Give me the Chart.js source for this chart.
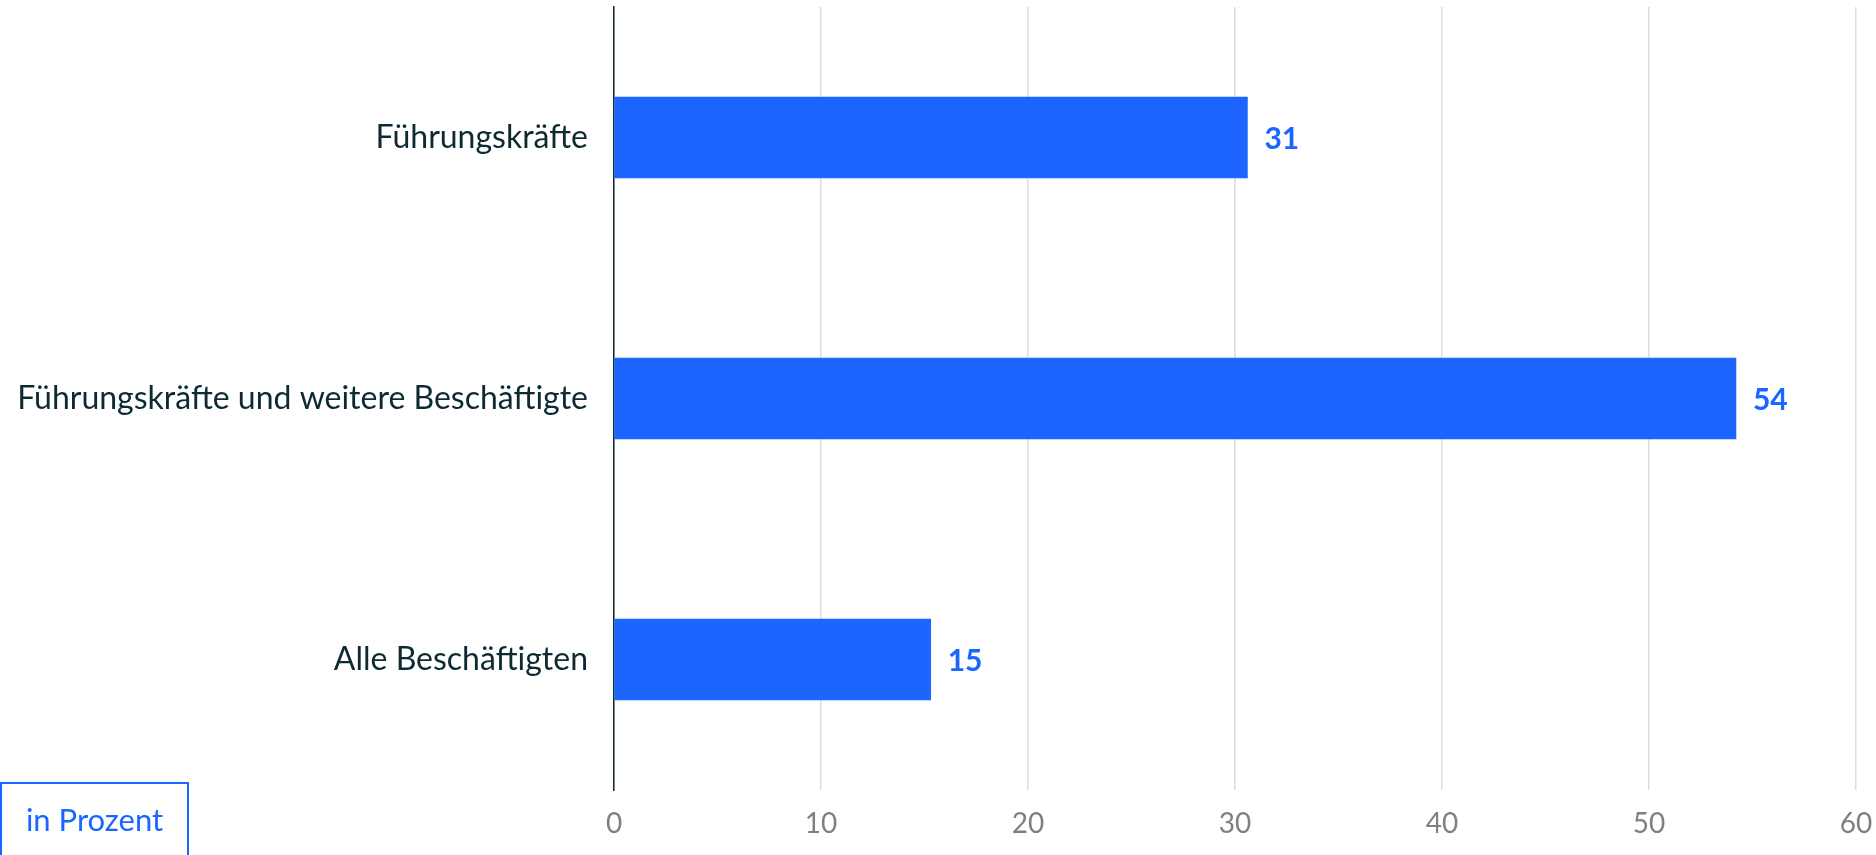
<!DOCTYPE html>
<html><head><meta charset="utf-8">
<script src="https://cdn.jsdelivr.net/npm/chart.js@4/dist/chart.umd.min.js"></script>
<style>
html,body{margin:0;padding:0;background:#fff;}
#wrap{position:relative;width:1876px;height:855px;}
#unit{position:absolute;left:0;top:782px;width:189px;height:73px;box-sizing:border-box;border:2px solid #1a66ff;border-bottom:none;color:#1a66ff;font-family:Lato,sans-serif;font-size:31px;display:flex;align-items:center;justify-content:center;padding-bottom:2px;}
</style></head>
<body><div id="wrap"><canvas id="c" width="1876" height="855"></canvas><div id="unit">in Prozent</div></div>
<script>
const categories = ["Führungskräfte", "Führungskräfte und weitere Beschäftigte", "Alle Beschäftigten"];
const values = [30.6, 54.2, 15.3];
const tickValues = [0, 10, 20, 30, 40, 50, 60];

const valueLabels = {
  id: 'valueLabels',
  afterDatasetsDraw(chart) {
    const ctx = chart.ctx;
    const meta = chart.getDatasetMeta(0);
    ctx.save();
    ctx.font = 'bold 30px Lato, sans-serif';
    ctx.fillStyle = '#1a66ff';
    ctx.textBaseline = 'middle';
    ctx.textAlign = 'left';
    meta.data.forEach((bar, i) => {
      ctx.fillText(String(Math.round(values[i])), bar.x + 17, bar.y + 2);
    });
    ctx.restore();
  }
};

new Chart(document.getElementById('c'), {
  type: 'bar',
  data: {
    labels: categories,
    datasets: [{ data: values, backgroundColor: '#1c66ff', barThickness: 81 }]
  },
  options: {
    indexAxis: 'y',
    responsive: false,
    animation: false,
    layout: { padding: { top: 7, right: 20, left: 0, bottom: 0 } },
    plugins: { legend: { display: false }, tooltip: { enabled: false } },
    scales: {
      x: {
        min: 0, max: 60,
        afterBuildTicks(axis) { axis.ticks = tickValues.map(v => ({ value: v })); },
        afterFit(axis) { axis.height = 65; axis.paddingLeft = 0; axis.paddingRight = 0; },
        grid: { color: '#dddddd', lineWidth: 1.5, drawTicks: false },
        border: { display: false },
        ticks: { color: '#808080', font: { family: 'Lato', size: 28 }, padding: 17 }
      },
      y: {
        afterFit(axis) { axis.width = 614; axis.paddingTop = 0; axis.paddingBottom = 0; },
        grid: { display: false, drawTicks: false },
        border: { display: true, color: '#0d2a33', width: 1.5 },
        ticks: { color: '#0d2a33', font: { family: 'Lato', size: 32 }, padding: 26 }
      }
    }
  },
  plugins: [valueLabels]
});
</script></body></html>
